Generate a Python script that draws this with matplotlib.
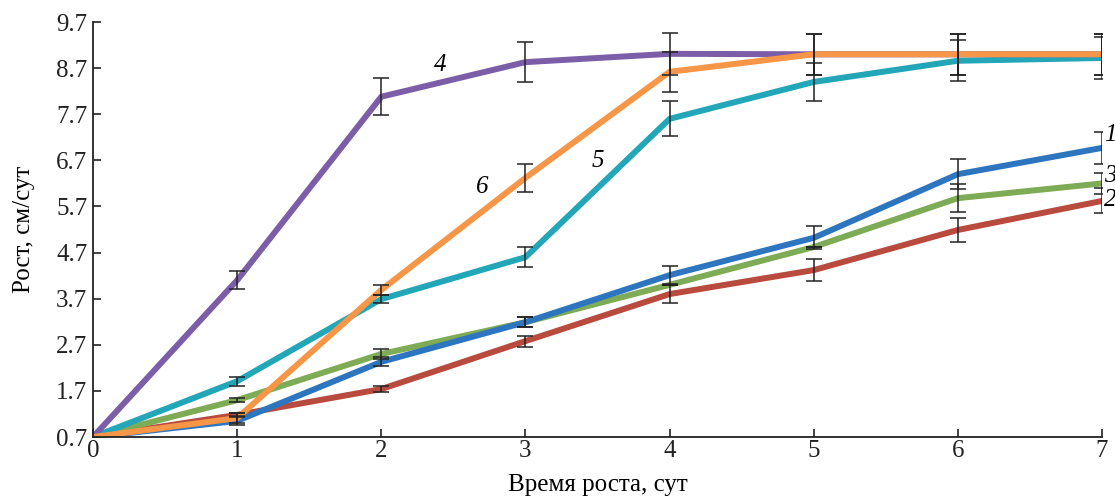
import matplotlib
matplotlib.use("Agg")
import matplotlib.pyplot as plt
import numpy as np

plt.rcParams['font.family'] = ['Liberation Serif', 'DejaVu Serif']

# days of growth
days = [0, 1, 2, 3, 4, 5, 6, 7]

# growth, cm/day
s1 = [0.7, 1.05, 2.33, 3.19, 4.21, 5.02, 6.40, 6.97]
s2 = [0.7, 1.18, 1.74, 2.78, 3.80, 4.32, 5.19, 5.82]
s3 = [0.7, 1.50, 2.50, 3.19, 4.00, 4.82, 5.88, 6.20]
s4 = [0.7, 4.10, 8.08, 8.83, 9.01, 9.00, 9.00, 9.00]
s5 = [0.7, 1.91, 3.69, 4.60, 7.60, 8.40, 8.86, 8.92]
s6 = [0.7, 1.11, 3.89, 6.32, 8.62, 9.00, 9.00, 9.00]

# error bar half-widths
e1 = [0, 0.1, 0.1, 0.11, 0.2, 0.25, 0.33, 0.35]
e2 = [0, 0.05, 0.06, 0.12, 0.2, 0.23, 0.25, 0.27]
e3 = [0, 0.05, 0.1, 0.11, 0.0, 0.0, 0.3, 0.22]
e4 = [0, 0.2, 0.4, 0.43, 0.45, 0.45, 0.45, 0.45]
e5 = [0, 0.1, 0.08, 0.22, 0.38, 0.42, 0.45, 0.45]
e6 = [0, 0.1, 0.1, 0.31, 0.43, 0.45, 0.45, 0.45]

series = [
    ("2", s2, e2, "#b84a3e"),
    ("3", s3, e3, "#7eab55"),
    ("1", s1, e1, "#2e75c0"),
    ("5", s5, e5, "#23a6b7"),
    ("4", s4, e4, "#7b5ea7"),
    ("6", s6, e6, "#f79646"),
]

fig = plt.figure(figsize=(11.15, 4.97), dpi=100)
ax = fig.add_axes([0.0834, 0.1207, 0.905, 0.835])

for name, vals, err, col in series:
    ax.plot(days, vals, color=col, lw=4.3, solid_capstyle='round', zorder=2)
for name, vals, err, col in series:
    ax.errorbar(days[1:], vals[1:], yerr=err[1:], fmt='none', ecolor='#222222',
                elinewidth=1.1, capsize=6, capthick=1.1, zorder=3)

# curve numbers
lab = dict(fontsize=18, style='italic', ha='center', va='center')
ax.text(2.41, 8.77, "4", **lab)
ax.text(2.70, 6.12, "6", **lab)
ax.text(3.50, 6.69, "5", **lab)
ax.text(7.06, 7.25, "1", clip_on=False, **lab)
ax.text(7.06, 6.35, "3", clip_on=False, **lab)
ax.text(7.06, 5.85, "2", clip_on=False, **lab)

ax.set_xlim(0, 7)
ax.set_ylim(0.7, 9.7)
ax.set_xticks(days)
ax.set_yticks([0.7, 1.7, 2.7, 3.7, 4.7, 5.7, 6.7, 7.7, 8.7, 9.7])
ax.set_yticklabels(["0.7", "1.7", "2.7", "3.7", "4.7", "5.7", "6.7", "7.7", "8.7", "9.7"])
ax.tick_params(direction='in', length=6, width=1.2, labelsize=18, colors='#222222')
ax.tick_params(axis='x', pad=2)
ax.tick_params(axis='y', pad=4)
for sp in ['top', 'right']:
    ax.spines[sp].set_visible(False)
for sp in ['left', 'bottom']:
    ax.spines[sp].set_linewidth(1.3)
    ax.spines[sp].set_color('#222222')

ax.set_xlabel("Время роста, сут", fontsize=18, labelpad=9)
ax.set_ylabel("Рост, см/сут", fontsize=18, labelpad=15)

fig.savefig("out.png", dpi=100)
